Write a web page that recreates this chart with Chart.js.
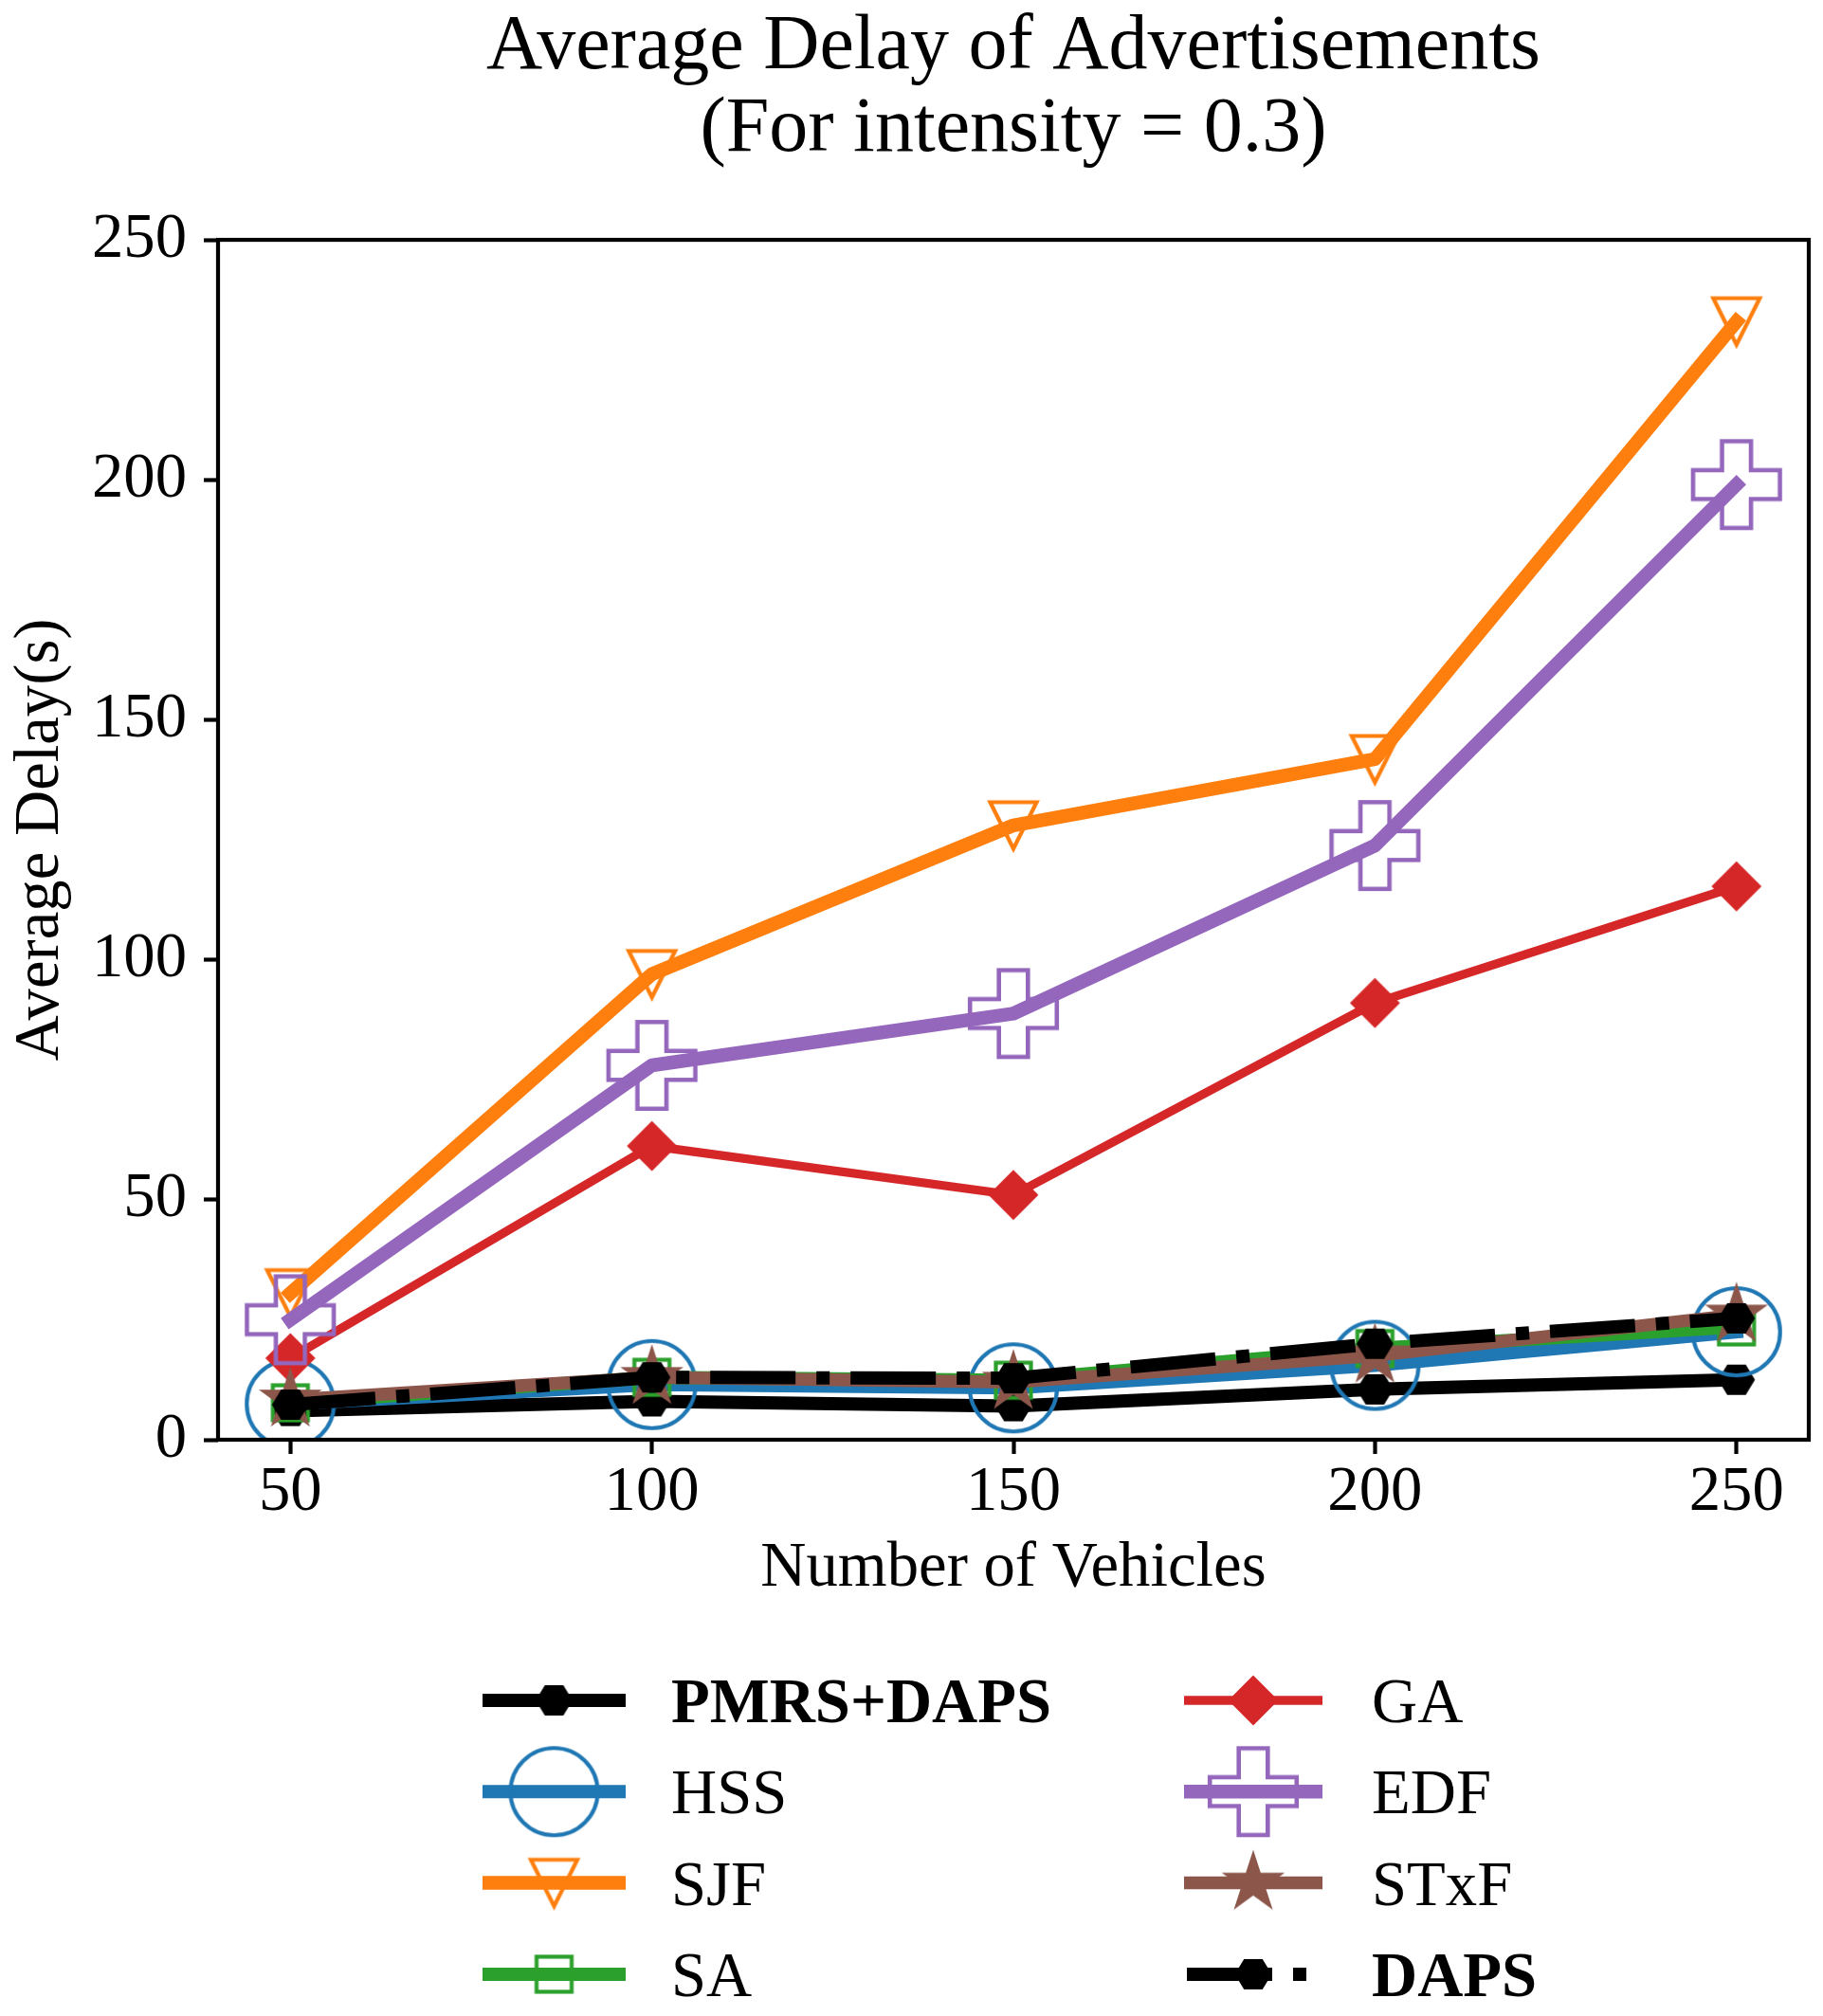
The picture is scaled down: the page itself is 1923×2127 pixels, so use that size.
<!DOCTYPE html>
<html>
<head>
<meta charset="utf-8">
<script src="https://cdn.jsdelivr.net/npm/chart.js@4.4.1/dist/chart.umd.min.js"></script>
<style>
  html, body { margin: 0; padding: 0; background: #ffffff; }
  #wrap { width: 1923px; height: 2127px; }
</style>
</head>
<body>
<div id="wrap"><canvas id="c" width="1923" height="2127"></canvas></div>
<script>
// ---------------- data ----------------
const categories = [50, 100, 150, 200, 250];
const xTicks = [50, 100, 150, 200, 250];
const seriesNames = ['PMRS+DAPS', 'HSS', 'SJF', 'SA', 'GA', 'EDF', 'STxF', 'DAPS'];
const pmrsDaps = [6.0, 8.0, 7.0, 10.5, 12.5];
const hss      = [7.5, 11.5, 10.8, 15.5, 22.5];
const sjf      = [30.5, 97.0, 128.0, 141.8, 233.0];
const sa       = [7.7, 13.0, 12.4, 19.0, 23.5];
const ga       = [17.0, 61.2, 51.0, 91.0, 115.3];
const edf      = [25.0, 78.0, 88.8, 123.8, 199.0];
const stxf     = [8.3, 13.0, 12.0, 17.5, 26.0];
const daps     = [7.3, 13.0, 12.8, 20.0, 25.3];
const seriesValues = [pmrsDaps, hss, sjf, sa, ga, edf, stxf, daps];
const boldLabels = [true, false, false, false, false, false, false, true];

// ---------------- styles ----------------
const FONT = '"Liberation Serif", "Times New Roman", Times, serif';
const C = {
  black: '#000000', blue: '#1f77b4', orange: '#ff7f0e', green: '#2ca02c',
  red: '#d62728', purple: '#9467bd', brown: '#8c564b'
};

function makeMarker(size, draw) {
  const cv = document.createElement('canvas');
  cv.width = size; cv.height = size;
  const g = cv.getContext('2d');
  g.translate(size / 2, size / 2);
  draw(g);
  return cv;
}
function poly(g, pts) {
  g.beginPath();
  g.moveTo(pts[0][0], pts[0][1]);
  for (let k = 1; k < pts.length; k++) g.lineTo(pts[k][0], pts[k][1]);
  g.closePath();
}
const markers = {
  hexagon: makeMarker(46, g => {
    const R = 19.5, pts = [];
    for (let k = 0; k < 6; k++) { const a = k * Math.PI / 3; pts.push([R * Math.cos(a), R * Math.sin(a) * 0.95]); }
    poly(g, pts); g.fillStyle = C.black; g.fill();
  }),
  circle: makeMarker(104, g => {
    g.beginPath(); g.arc(0, 0, 46, 0, Math.PI * 2);
    g.lineWidth = 4.2; g.strokeStyle = C.blue; g.stroke();
  }),
  triDown: makeMarker(66, g => {
    const h = 24.5;
    poly(g, [[-h, -h], [h, -h], [0, h]]);
    g.lineJoin = 'miter'; g.lineWidth = 4.2; g.strokeStyle = C.orange; g.stroke();
  }),
  square: makeMarker(50, g => {
    g.lineWidth = 4.2; g.strokeStyle = C.green; g.strokeRect(-18.5, -18.5, 37, 37);
  }),
  diamond: makeMarker(62, g => {
    const d = 25;
    poly(g, [[0, -d], [d, 0], [0, d], [-d, 0]]);
    g.fillStyle = C.red; g.fill(); g.lineWidth = 2; g.strokeStyle = C.red; g.stroke();
  }),
  plus: makeMarker(106, g => {
    const s = 45.8, a = 15.3;
    poly(g, [[-a, -s], [a, -s], [a, -a], [s, -a], [s, a], [a, a], [a, s], [-a, s], [-a, a], [-s, a], [-s, -a], [-a, -a]]);
    g.lineJoin = 'miter'; g.lineWidth = 4.6; g.strokeStyle = C.purple; g.stroke();
  }),
  star: makeMarker(78, g => {
    const R = 35, r = R * 0.381966, pts = [];
    for (let k = 0; k < 10; k++) {
      const a = -Math.PI / 2 + k * Math.PI / 5;
      const rr = k % 2 === 0 ? R : r;
      pts.push([rr * Math.cos(a), rr * Math.sin(a)]);
    }
    poly(g, pts); g.fillStyle = C.brown; g.fill();
  })
};

const seriesStyle = [
  { color: C.black,  width: 14, marker: markers.hexagon, dash: [] },
  { color: C.blue,   width: 14, marker: markers.circle,  dash: [] },
  { color: C.orange, width: 14.5, marker: markers.triDown, dash: [] },
  { color: C.green,  width: 14, marker: markers.square,  dash: [] },
  { color: C.red,    width: 9.3, marker: markers.diamond, dash: [] },
  { color: C.purple, width: 14.5, marker: markers.plus,    dash: [] },
  { color: C.brown,  width: 13.5, marker: markers.star,    dash: [] },
  { color: C.black,  width: 14, marker: markers.hexagon, dash: [90, 22, 14, 22] }
];

const datasets = seriesNames.map((name, i) => ({
  label: name,
  data: categories.map((x, j) => ({ x: x, y: seriesValues[i][j] })),
  borderColor: seriesStyle[i].color,
  backgroundColor: seriesStyle[i].color,
  borderWidth: seriesStyle[i].width,
  borderDash: seriesStyle[i].dash,
  borderCapStyle: seriesStyle[i].dash.length ? 'butt' : 'square',
  borderJoinStyle: 'round',
  pointStyle: seriesStyle[i].marker,
  pointRadius: 20,
  pointHoverRadius: 20,
  pointBorderWidth: 1,
  tension: 0,
  fill: false,
  clip: 0,
  order: seriesNames.length - i
}));

// ---------------- plugins ----------------
const framePlugin = {
  id: 'frame',
  afterDatasetsDraw(chart) {
    const a = chart.chartArea, ctx = chart.ctx;
    ctx.save();
    ctx.lineWidth = 4.2; ctx.strokeStyle = '#000';
    ctx.lineJoin = 'miter';
    ctx.strokeRect(a.left, a.top, a.right - a.left, a.bottom - a.top);
    ctx.restore();
  }
};

const legendPlugin = {
  id: 'mplLegend',
  afterDraw(chart) {
    const ctx = chart.ctx;
    const cols = [{ x0: 509, x1: 660, tx: 708 }, { x0: 1249, x1: 1395, tx: 1447 }];
    chart.data.datasets.forEach((ds, i) => {
      const col = cols[Math.floor(i / 4)];
      const y = 1794 + (i % 4) * 96.3;
      ctx.save();
      ctx.strokeStyle = ds.borderColor;
      ctx.lineWidth = ds.borderWidth;
      ctx.setLineDash(ds.borderDash || []);
      ctx.lineCap = 'butt';
      ctx.beginPath();
      ctx.moveTo(col.x0 + (ds.borderDash && ds.borderDash.length ? 3 : 0), y);
      ctx.lineTo(col.x1, y);
      ctx.stroke();
      ctx.setLineDash([]);
      const img = ds.pointStyle;
      const cx = (col.x0 + col.x1) / 2;
      ctx.drawImage(img, cx - img.width / 2, y - img.height / 2);
      ctx.fillStyle = '#000';
      ctx.font = (boldLabels[i] ? 'bold ' : '') + '66.7px ' + FONT;
      ctx.textAlign = 'left';
      ctx.textBaseline = 'alphabetic';
      ctx.fillText(ds.label, col.tx, y + 23);
      ctx.restore();
    });
  }
};

// ---------------- chart ----------------
new Chart(document.getElementById('c'), {
  type: 'line',
  data: { datasets: datasets },
  options: {
    responsive: false,
    devicePixelRatio: 1,
    animation: false,
    events: [],
    layout: { autoPadding: false, padding: { left: 0, right: 15, top: 0, bottom: 408 } },
    plugins: {
      legend: { display: false },
      tooltip: { enabled: false },
      title: {
        display: true,
        fullSize: false,
        text: ['Average Delay of Advertisements', '(For intensity = 0.3)'],
        color: '#000',
        font: { family: FONT, size: 82, weight: 'normal', lineHeight: 1.06 },
        padding: { top: 7, bottom: 72.2 }
      }
    },
    scales: {
      x: {
        type: 'linear',
        min: 40,
        max: 260,
        afterBuildTicks: s => { s.ticks = xTicks.map(v => ({ value: v })); },
        afterFit: s => { s.height = 200; s.paddingLeft = 0; s.paddingRight = 0; },
        ticks: {
          color: '#000',
          font: { family: FONT, size: 66.7, lineHeight: 1 },
          padding: 8,
          maxRotation: 0,
          autoSkip: false
        },
        grid: { display: true, drawOnChartArea: false, drawTicks: true, tickLength: 15, tickWidth: 4.2, tickColor: '#000' },
        border: { display: false },
        title: {
          display: true,
          text: 'Number of Vehicles',
          color: '#000',
          font: { family: FONT, size: 66.7, lineHeight: 1 },
          padding: { top: 0, bottom: 30 }
        }
      },
      y: {
        type: 'linear',
        min: 0,
        max: 250,
        afterFit: s => { s.width = 230; s.paddingTop = 0; s.paddingBottom = 0; },
        ticks: {
          stepSize: 50,
          color: '#000',
          font: { family: FONT, size: 66.7, lineHeight: 1 },
          padding: 18
        },
        grid: { display: true, drawOnChartArea: false, drawTicks: true, tickLength: 15, tickWidth: 4.2, tickColor: '#000' },
        border: { display: false },
        title: {
          display: true,
          text: 'Average Delay(s)',
          color: '#000',
          font: { family: FONT, size: 66.7, lineHeight: 1 },
          padding: { top: 10, bottom: 0 }
        }
      }
    }
  },
  plugins: [framePlugin, legendPlugin]
});
</script>
</body>
</html>
